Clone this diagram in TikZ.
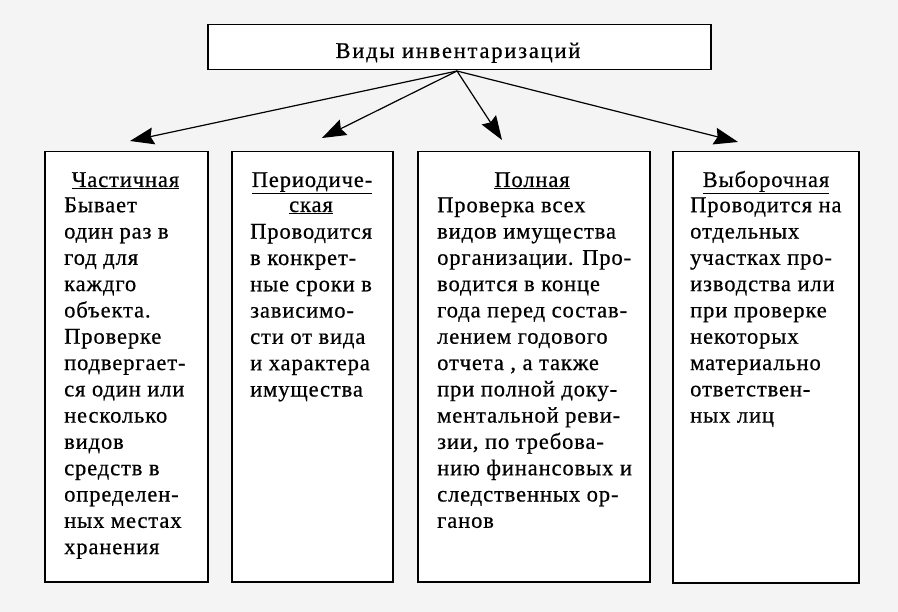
\documentclass[tikz,border=0pt]{standalone}
\usepackage{fontspec}
\setmainfont{Liberation Serif}[LetterSpace=4,FakeBold=0.6]
\newfontfamily\titlefont{Liberation Serif}[LetterSpace=8,FakeBold=0.6]
\usetikzlibrary{arrows.meta}
\definecolor{bgc}{HTML}{F4F4F4}
\tikzset{
  box/.style={draw=black, line width=1.5pt, fill=white, inner sep=0pt, anchor=north west},
  txt/.style={inner sep=0pt, font={\fontsize{22.5}{26.3}\selectfont}},
  body/.style={txt, align=left, anchor=north west},
  head/.style={txt, anchor=base},
  arr/.style={line width=1.2pt, -{Stealth[length=24pt,width=17pt,inset=3pt]}}
}
\begin{document}
\begin{tikzpicture}[x=1pt,y=-1pt]
\fill[bgc] (0,0) rectangle (898,612);
\useasboundingbox (0,0) rectangle (898,612);
% top box
\node[box, minimum width=503pt, minimum height=45pt] (top) at (207,24) {};
\node[txt, anchor=base, font={\titlefont\fontsize{22.5}{26.3}\selectfont}] (title) at (458,58) {Виды инвентаризаций};
% boxes
\node[box, minimum width=163pt, minimum height=430pt] (b1) at (44,151) {};
\node[box, minimum width=161pt, minimum height=430pt] (b2) at (231,151) {};
\node[box, minimum width=232pt, minimum height=430pt] (b3) at (417,151) {};
\node[box, minimum width=186pt, minimum height=431pt] (b4) at (672,151) {};
% arrows
\coordinate (o) at (457,71);
\coordinate (e1) at (130,141);
\coordinate (e2) at (322,138);
\coordinate (e3) at (502,140);
\coordinate (e4) at (738,142);
\draw[arr] (o) -- (e1);
\draw[arr] (o) -- (e2);
\draw[arr] (o) -- (e3);
\draw[arr] (o) -- (e4);
% headings
\node[head] (h1) at (125.5,187) {\underline{Частичная}};
\node[head] (h2a) at (312,187) {\underline{Периодиче-}};
\node[head] (h2b) at (311,212) {\underline{ская}};
\node[head] (h3) at (532,187) {\underline{Полная}};
\node[head] (h4) at (766,187) {\underline{Выборочная}};
% bodies
\node[body] (t1) at (64,193.6) {\strut Бывает\\один раз в\\год для\\каждго\\объекта.\\Проверке\\подвергает-\\ся один или\\несколько\\видов\\средств в\\определен-\\ных местах\\хранения};
\node[body] (t2) at (250,220.1) {\strut Проводится\\в конкрет-\\ные сроки в\\зависимо-\\сти от вида\\и характера\\имущества};
\node[body] (t3) at (437,193.6) {\strut Проверка всех\\видов имущества\\организации. Про-\\водится в конце\\года перед состав-\\лением годового\\отчета , а также\\при полной доку-\\ментальной реви-\\зии, по требова-\\нию финансовых и\\следственных ор-\\ганов};
\node[body] (t4) at (690,193.6) {\strut Проводится на\\отдельных\\участках про-\\изводства или\\при проверке\\некоторых\\материально\\ответствен-\\ных лиц};
\end{tikzpicture}
\end{document}
